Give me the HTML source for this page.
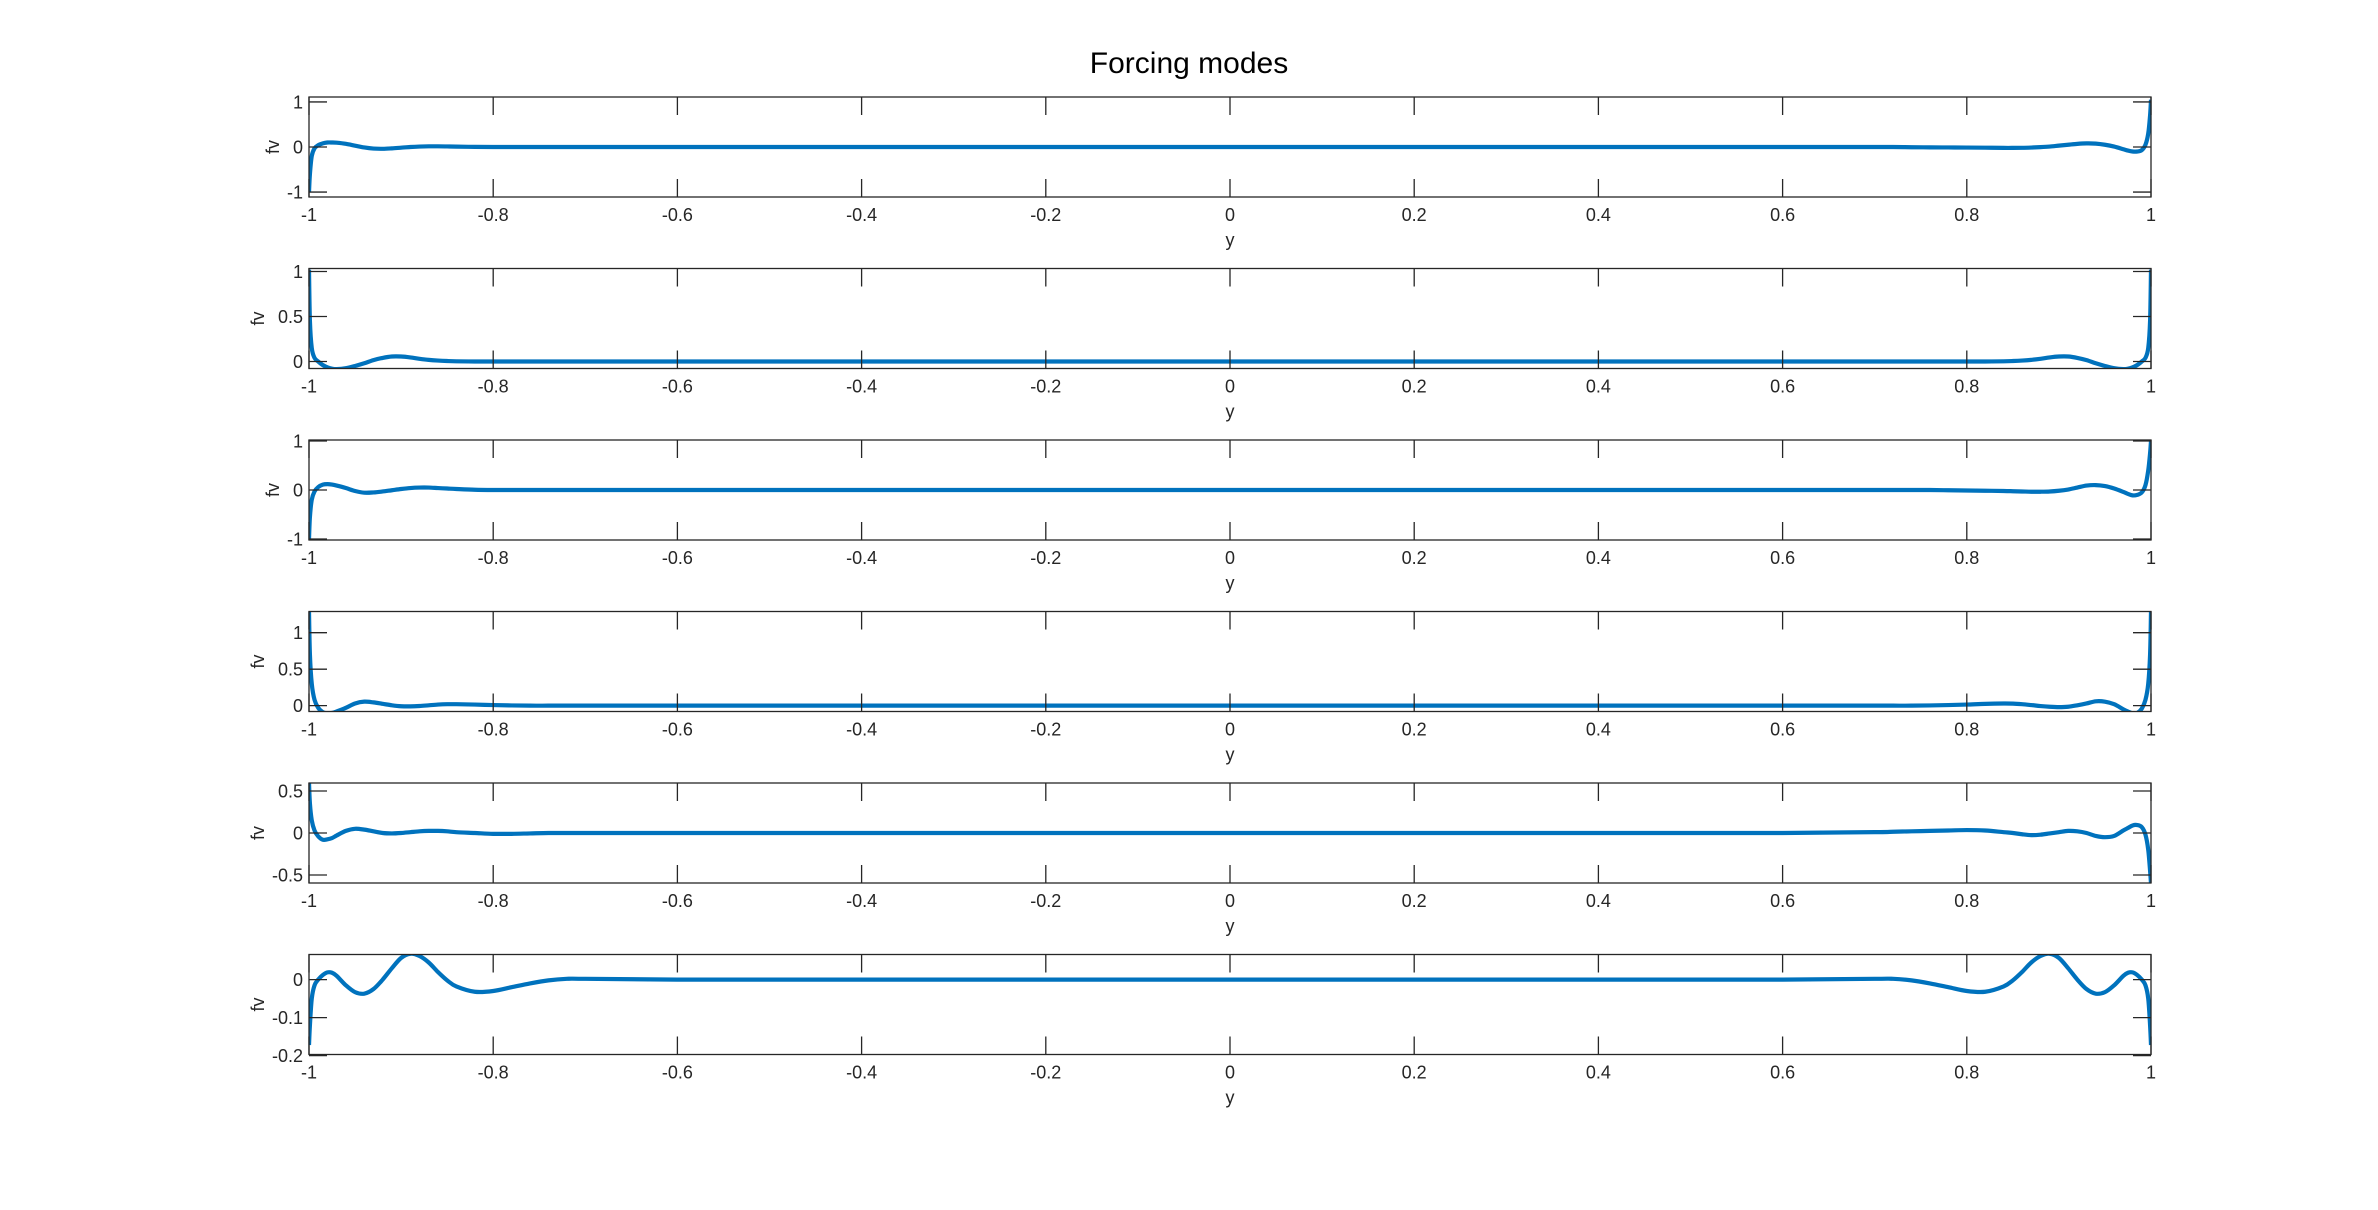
<!DOCTYPE html>
<html><head><meta charset="utf-8"><title>Forcing modes</title>
<style>
html,body{margin:0;padding:0;background:#fff;}
svg{display:block;font-family:"Liberation Sans",Arial,sans-serif;}
</style></head>
<body>
<svg id="fig" width="2378" height="1210" viewBox="0 0 2378 1210" xmlns="http://www.w3.org/2000/svg">
<rect x="0" y="0" width="2378" height="1210" fill="#fff"/>
<text x="1189" y="73" text-anchor="middle" font-size="30" fill="#000">Forcing modes</text>
</svg>
<script>
const xGrid = [-1,-0.999,-0.997,-0.994,-0.99,-0.985,-0.98,-0.975,-0.97,-0.96,-0.95,-0.94,-0.93,-0.92,-0.91,-0.9,-0.89,-0.88,-0.87,-0.86,-0.85,-0.84,-0.82,-0.8,-0.78,-0.76,-0.74,-0.72,-0.7,-0.6,-0.4,-0.2,0,
0.2,0.4,0.6,0.7,0.72,0.74,0.76,0.78,0.8,0.82,0.84,0.85,0.86,0.87,0.88,0.89,0.9,0.91,0.92,0.93,0.94,0.95,0.96,0.97,0.975,0.98,0.985,0.99,0.994,0.997,0.999,1];

const mode1 = [-1.0,-0.6,-0.2,-0.03,0.04,0.08,0.10,0.10,0.095,0.07,0.03,-0.01,-0.035,-0.04,-0.03,-0.015,0,0.01,0.015,0.015,0.012,0.008,0.003,0,0,0,0,0,0,0,0,0,0,
0,0,0,0,0,-0.005,-0.008,-0.01,-0.012,-0.015,-0.02,-0.02,-0.018,-0.012,-0.003,0.01,0.03,0.05,0.07,0.08,0.075,0.05,0.01,-0.05,-0.08,-0.10,-0.10,-0.07,0.05,0.3,0.7,1.05];

const mode2 = [1.02,0.45,0.15,0.04,0.0,-0.04,-0.065,-0.08,-0.085,-0.075,-0.05,-0.02,0.015,0.04,0.055,0.055,0.045,0.03,0.018,0.01,0.005,0.002,0,0,0,0,0,0,0,0,0,0,0,
0,0,0,0,0,0,0,0,0,0,0.002,0.005,0.01,0.018,0.03,0.045,0.055,0.055,0.04,0.015,-0.02,-0.05,-0.075,-0.085,-0.08,-0.065,-0.04,0.0,0.04,0.15,0.45,1.02];

const mode3 = [-1.0,-0.55,-0.2,-0.03,0.06,0.11,0.12,0.11,0.09,0.04,-0.02,-0.055,-0.05,-0.03,-0.005,0.02,0.04,0.05,0.05,0.04,0.03,0.02,0.005,0,0,0,0,0,0,0,0,0,0,
0,0,0,0,0,0,0,-0.005,-0.01,-0.015,-0.02,-0.025,-0.03,-0.035,-0.035,-0.03,-0.015,0.01,0.05,0.09,0.10,0.08,0.03,-0.04,-0.08,-0.11,-0.10,-0.05,0.1,0.4,0.75,1.0];

const mode4 = [1.29,0.7,0.3,0.08,-0.03,-0.09,-0.105,-0.1,-0.08,-0.03,0.03,0.055,0.045,0.025,0.005,-0.008,-0.01,-0.005,0.005,0.015,0.02,0.02,0.015,0.008,0.003,0,0,0,0,0,0,0,0,
0,0,0,0,0,0,0.003,0.008,0.015,0.025,0.03,0.028,0.02,0.008,-0.005,-0.015,-0.02,-0.015,0.005,0.03,0.06,0.055,0.02,-0.05,-0.08,-0.105,-0.1,-0.04,0.08,0.3,0.7,1.29];

const mode5 = [0.6,0.35,0.15,0.03,-0.04,-0.08,-0.075,-0.06,-0.03,0.025,0.05,0.04,0.02,0.0,-0.005,0.0,0.01,0.02,0.025,0.025,0.02,0.01,0.0,-0.01,-0.01,-0.005,0,0,0,0,0,0,0,
0,0,0,0.01,0.015,0.02,0.025,0.03,0.035,0.03,0.01,0.0,-0.015,-0.025,-0.02,-0.005,0.01,0.025,0.02,0.0,-0.035,-0.05,-0.035,0.03,0.06,0.09,0.095,0.07,-0.02,-0.2,-0.45,-0.6];

const mode6 = [-0.172,-0.12,-0.05,-0.015,0.0,0.012,0.019,0.018,0.01,-0.015,-0.033,-0.037,-0.025,0.0,0.03,0.057,0.068,0.062,0.045,0.02,-0.002,-0.018,-0.032,-0.03,-0.02,-0.01,-0.002,0.002,0.002,0,0,0,0,
0,0,0,0.002,0.002,-0.002,-0.01,-0.02,-0.03,-0.032,-0.018,-0.002,0.02,0.045,0.062,0.068,0.057,0.03,0.0,-0.025,-0.037,-0.033,-0.015,0.01,0.018,0.019,0.012,0.0,-0.015,-0.05,-0.12,-0.172];

const xTicks = [-1,-0.8,-0.6,-0.4,-0.2,0,0.2,0.4,0.6,0.8,1];
const xTickLabels = ["-1","-0.8","-0.6","-0.4","-0.2","0","0.2","0.4","0.6","0.8","1"];
const yLims = [[-1.11,1.11],[-0.078,1.033],[-1.02,1.02],[-0.08,1.29],[-0.595,0.595],[-0.197,0.066]];
const yTicks = [[-1,0,1],[0,0.5,1],[-1,0,1],[0,0.5,1],[-0.5,0,0.5],[-0.2,-0.1,0]];
const yTickLabels = [["-1","0","1"],["0","0.5","1"],["-1","0","1"],["0","0.5","1"],["-0.5","0","0.5"],["-0.2","-0.1","0"]];
const seriesList = [mode1,mode2,mode3,mode4,mode5,mode6];

const NS = "http://www.w3.org/2000/svg";
const svg = document.getElementById('fig');
const L = 309, R = 2151, H = 100;
const tops = [97,268.5,440,611.5,783,954.5];
const fvX = [273,258,273,258,258,258];
function mk(tag, attrs){const e=document.createElementNS(NS,tag);for(const k in attrs)e.setAttribute(k,attrs[k]);return e;}
function xs(v){return L + (v+1)/2*(R-L);}

for(let p=0;p<6;p++){
  const top=tops[p], bot=top+H, lim=yLims[p];
  const ys = v => bot - (v-lim[0])/(lim[1]-lim[0])*H;
  const g = mk('g',{});
  
  
  svg.appendChild(g);
  const clipId='clip'+p;
  const cp=mk('clipPath',{id:clipId});
  cp.appendChild(mk('rect',{x:L,y:top,width:R-L,height:H}));
  g.appendChild(cp);
  const pts = xGrid.map((x,i)=>[xs(x),ys(seriesList[p][i])]);
  let d='M'+pts[0][0].toFixed(2)+','+pts[0][1].toFixed(2);
  for(let i=0;i<pts.length-1;i++){
    const p0=pts[Math.max(0,i-1)],p1=pts[i],p2=pts[i+1],p3=pts[Math.min(pts.length-1,i+2)];
    const t=1/6;
    let c1x=p1[0]+(p2[0]-p0[0])*t,c1y=p1[1]+(p2[1]-p0[1])*t;
    let c2x=p2[0]-(p3[0]-p1[0])*t,c2y=p2[1]-(p3[1]-p1[1])*t;
    c1x=Math.min(Math.max(c1x,Math.min(p1[0],p2[0])),Math.max(p1[0],p2[0]));
    c2x=Math.min(Math.max(c2x,Math.min(p1[0],p2[0])),Math.max(p1[0],p2[0]));
    d+=' C'+c1x.toFixed(2)+','+c1y.toFixed(2)+' '+c2x.toFixed(2)+','+c2y.toFixed(2)+' '+p2[0].toFixed(2)+','+p2[1].toFixed(2);
  }
  const line = mk('path',{d:d,fill:'none',stroke:'#0072BD','stroke-width':4.2,'stroke-linejoin':'round','clip-path':'url(#'+clipId+')'});
  
  
  g.appendChild(line);
  let td='';
  xTicks.forEach(v=>{const x=xs(v);td+=`M${x},${bot}v-18M${x},${top}v18`;});
  yTicks[p].forEach(v=>{const y=ys(v);td+=`M${L},${y}h18M${R},${y}h-18`;});
  const ticks=mk('path',{d:td,stroke:'#262626','stroke-width':1.3,fill:'none'});
  
  
  g.appendChild(ticks);
  const box=mk('rect',{x:L,y:top,width:R-L,height:H,fill:'none',stroke:'#262626','stroke-width':1.3});
  
  
  g.appendChild(box);
  xTicks.forEach((v,i)=>{
    const t=mk('text',{x:xs(v),y:bot+24,'text-anchor':'middle','font-size':18,fill:'#262626'});
    t.textContent=xTickLabels[i];
    
    
    g.appendChild(t);
  });
  yTicks[p].forEach((v,i)=>{
    const t=mk('text',{x:303,y:ys(v)+6.5,'text-anchor':'end','font-size':18,fill:'#262626'});
    t.textContent=yTickLabels[p][i];
    
    
    g.appendChild(t);
  });
  const xl=mk('text',{x:(L+R)/2,y:bot+49,'text-anchor':'middle','font-size':18,fill:'#262626'});
  xl.textContent='y';
  
  
  g.appendChild(xl);
  const cy=top+H/2;
  const yl=mk('text',{x:fvX[p]+6,y:cy,'text-anchor':'middle','font-size':18,fill:'#262626',transform:`rotate(-90 ${fvX[p]+6} ${cy})`});
  yl.textContent='fv';
  
  
  g.appendChild(yl);
}
</script>
</body></html>
